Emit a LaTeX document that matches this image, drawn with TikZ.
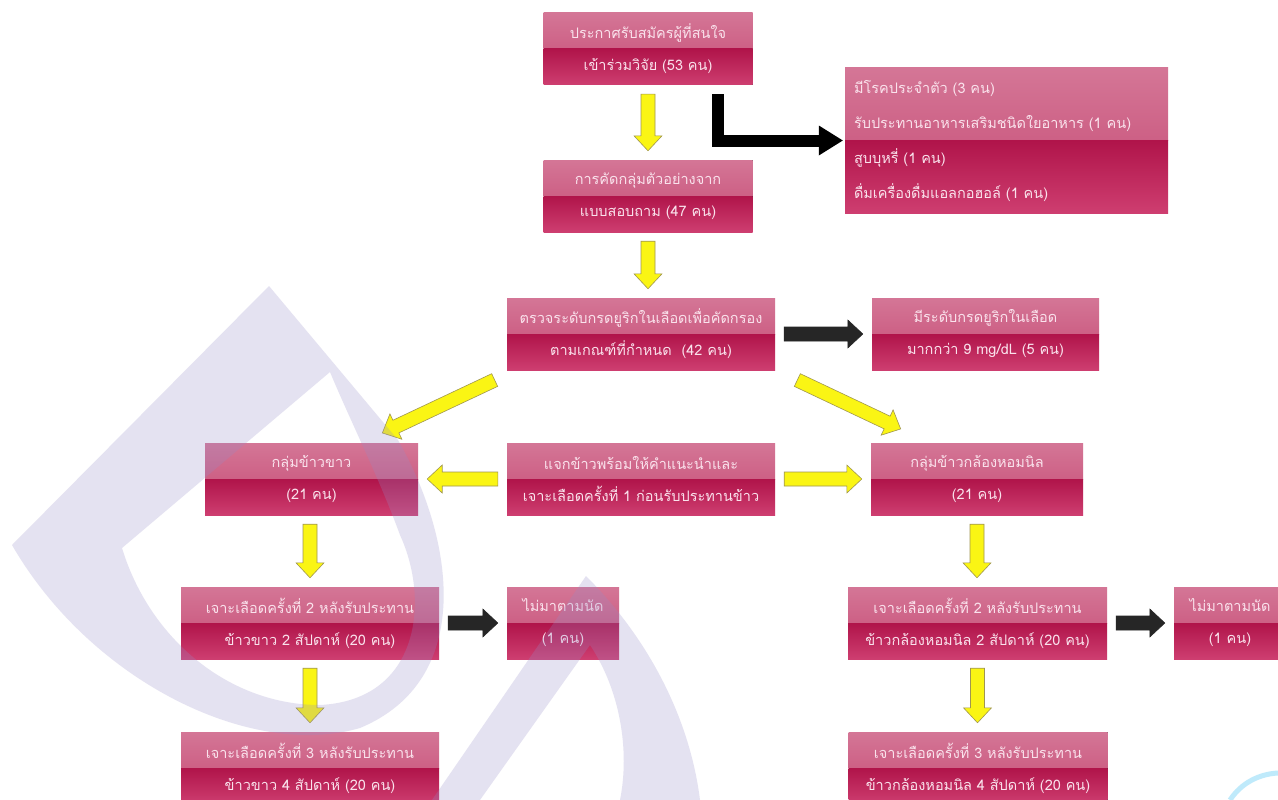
\documentclass[tikz,border=0pt]{standalone}
\usepackage{fontspec}
\newfontfamily\thaifont[Script=Thai]{Loma}
\usetikzlibrary{calc}
\definecolor{boxtop}{RGB}{212,118,150}
\definecolor{boxmid}{RGB}{198,74,116}
\definecolor{boxdark}{RGB}{176,20,74}
\definecolor{boxlow}{RGB}{206,62,112}
\definecolor{boxtext}{RGB}{250,226,236}
\definecolor{arrowyellow}{RGB}{250,245,20}
\definecolor{arrowedge}{RGB}{160,150,80}
\definecolor{wmark}{RGB}{150,140,200}

% block arrow between two anchors
\newcommand\blockarrow[3][yarrow]{%
  \coordinate (ba-s) at ($(#2)!9pt!(#3)$);
  \coordinate (ba-e) at ($(#3)!9pt!(#2)$);
  \coordinate (ba-h) at ($(ba-e)!15pt!(ba-s)$);
  \draw[#1] ($(ba-s)!7pt!90:(ba-e)$) -- ($(ba-h)!7pt!-90:(ba-s)$)
    -- ($(ba-h)!14pt!-90:(ba-s)$) -- (ba-e) -- ($(ba-h)!14pt!90:(ba-s)$)
    -- ($(ba-h)!7pt!90:(ba-s)$) -- ($(ba-s)!7pt!-90:(ba-e)$) -- cycle;
}

\begin{document}
\begin{tikzpicture}[x=1pt, y=-1pt,
  box/.style={minimum height=72pt, inner sep=0pt, align=center, text=boxtext,
    font=\thaifont\fontsize{14.5}{32}\selectfont,
    path picture={
      \fill[top color=boxtop, bottom color=boxmid]
        (path picture bounding box.north west) rectangle (path picture bounding box.east);
      \fill[top color=boxdark, bottom color=boxlow]
        (path picture bounding box.west) rectangle (path picture bounding box.south east);
    }},
  yarrow/.style={fill=arrowyellow, draw=arrowedge, line width=0.6pt, line join=miter},
  karrow/.style={fill=black!85, draw=black!85, line width=0.6pt, line join=miter},
  logo/.style={fill=wmark, opacity=0.25, even odd rule}]

  \useasboundingbox (0,0) rectangle (1278,800);
  \fill[white] (0,0) rectangle (1278,800);

  \node[box, minimum width=209pt] (recruit) at (648,49)
    {ประกาศรับสมัครผู้ที่สนใจ\\เข้าร่วมวิจัย (53 คน)};
  \node[box, minimum width=323pt, minimum height=145pt, align=left,
    font=\thaifont\fontsize{14.5}{35}\selectfont] (excl) at (1006.5,140.5)
    {\parbox{305pt}{มีโรคประจำตัว (3 คน)\\
    รับประทานอาหารเสริมชนิดใยอาหาร (1 คน)\\
    สูบบุหรี่ (1 คน)\\
    ดื่มเครื่องดื่มแอลกอฮอล์ (1 คน)}};
  \node[box, minimum width=209pt] (cut) at (648,196)
    {การคัดกลุ่มตัวอย่างจาก\\แบบสอบถาม (47 คน)};
  \node[box, minimum width=268pt] (check) at (641,334)
    {ตรวจระดับกรดยูริกในเลือดเพื่อคัดกรอง\\ตามเกณฑ์ที่กำหนด~~(42 คน)};
  \node[box, minimum width=227pt] (uric) at (985.5,334)
    {มีระดับกรดยูริกในเลือด\\มากกว่า 9 mg/dL (5 คน)};
  \node[box, minimum width=213pt] (white) at (311.5,479)
    {กลุ่มข้าวขาว\\(21 คน)};
  \node[box, minimum width=268pt] (give) at (641,479)
    {แจกข้าวพร้อมให้คำแนะนำและ\\เจาะเลือดครั้งที่ 1 ก่อนรับประทานข้าว};
  \node[box, minimum width=212pt] (brown) at (977,479)
    {กลุ่มข้าวกล้องหอมนิล\\(21 คน)};
  \node[box, minimum width=258pt] (white2) at (310,623)
    {เจาะเลือดครั้งที่ 2 หลังรับประทาน\\ข้าวขาว 2 สัปดาห์ (20 คน)};
  \node[box, minimum width=112pt] (miss1) at (563,623)
    {ไม่มาตามนัด\\(1 คน)};
  \node[box, minimum width=259pt] (brown2) at (977.5,623)
    {เจาะเลือดครั้งที่ 2 หลังรับประทาน\\ข้าวกล้องหอมนิล 2 สัปดาห์ (20 คน)};
  \node[box, minimum width=112pt] (miss2) at (1230,623)
    {ไม่มาตามนัด\\(1 คน)};
  \node[box, minimum width=258pt] (white4) at (310,768)
    {เจาะเลือดครั้งที่ 3 หลังรับประทาน\\ข้าวขาว 4 สัปดาห์ (20 คน)};
  \node[box, minimum width=259pt] (brown4) at (978,768)
    {เจาะเลือดครั้งที่ 3 หลังรับประทาน\\ข้าวกล้องหอมนิล 4 สัปดาห์ (20 คน)};

  \coordinate (tipL) at ($(white.north east)+(-44,-6)$);
  \coordinate (tipR) at ($(brown.north west)+(38,-10)$);
  \coordinate (tailL) at ($(check.south west)+(-4,6)$);
  \coordinate (tailR) at ($(check.south east)+(14,6)$);

  \blockarrow{recruit.south}{cut.north}
  \blockarrow{cut.south}{cut.south |- check.north}
  \blockarrow{tailL}{tipL}
  \blockarrow{tailR}{tipR}
  \blockarrow{give.west}{white.east}
  \blockarrow{give.east}{brown.west}
  \blockarrow{white2.north |- white.south}{white2.north}
  \blockarrow{white2.south}{white4.north}
  \blockarrow{brown.south}{brown.south |- brown2.north}
  \blockarrow{brown2.south}{brown2.south |- brown4.north}

  \blockarrow[karrow]{check.east}{uric.west}
  \blockarrow[karrow]{white2.east}{miss1.west}
  \blockarrow[karrow]{brown2.east}{miss2.west}
  \draw[black, line width=12pt, line join=miter]
    ([xshift=-35pt, yshift=-9pt]recruit.south east) |- ([xshift=-24pt]excl.west);
  \fill[black] ([xshift=-26pt, yshift=-15pt]excl.west) -- ([xshift=-2pt]excl.west)
    -- ([xshift=-26pt, yshift=15pt]excl.west) -- cycle;

  % watermark
  \path[logo] (269,286) -- (398,440) .. controls (455,540) and (475,680) .. (360,728)
    .. controls (250,760) and (90,680) .. (12,545) -- cycle
    (330,372) -- (122,548) .. controls (150,640) and (230,705) .. (320,705)
    .. controls (420,700) and (430,600) .. (400,535) .. controls (380,480) and (350,420) .. cycle;
  \path[logo] (586,576) -- (432,800) -- (480,800) -- (590,645)
    .. controls (620,690) and (630,750) .. (620,800) -- (700,800)
    .. controls (690,720) and (650,640) .. cycle;
  \draw[cyan!25, line width=5pt] (1230,800) .. controls (1242,782) and (1260,774) .. (1278,773);

\end{tikzpicture}
\end{document}
